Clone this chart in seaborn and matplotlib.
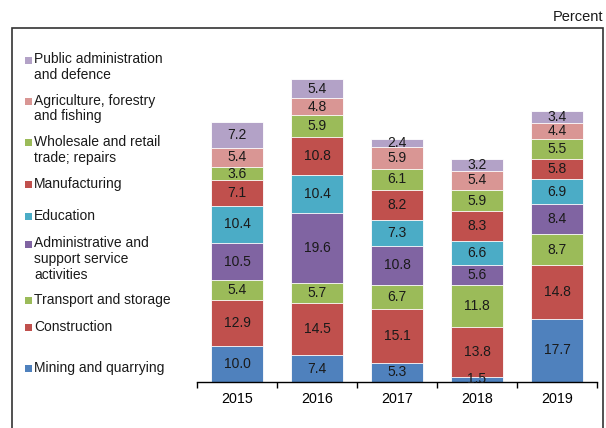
import matplotlib
matplotlib.use("Agg")
import matplotlib.pyplot as plt
from matplotlib.patches import Rectangle
import numpy as np
import pandas as pd
import seaborn as sns

years = ["2015", "2016", "2017", "2018", "2019"]
# bottom to top of the stack
sectors = [
    "Mining and quarrying",
    "Construction",
    "Transport and storage",
    "Administrative and\nsupport service\nactivities",
    "Education",
    "Manufacturing",
    "Wholesale and retail\ntrade; repairs",
    "Agriculture, forestry\nand fishing",
    "Public administration\nand defence",
]
mining = [10.0, 7.4, 5.3, 1.5, 17.7]
construction = [12.9, 14.5, 15.1, 13.8, 14.8]
transport = [5.4, 5.7, 6.7, 11.8, 8.7]
admin_support = [10.5, 19.6, 10.8, 5.6, 8.4]
education = [10.4, 10.4, 7.3, 6.6, 6.9]
manufacturing = [7.1, 10.8, 8.2, 8.3, 5.8]
wholesale = [3.6, 5.9, 6.1, 5.9, 5.5]
agriculture = [5.4, 4.8, 5.9, 5.4, 4.4]
public_admin = [7.2, 5.4, 2.4, 3.2, 3.4]

series = [mining, construction, transport, admin_support, education,
          manufacturing, wholesale, agriculture, public_admin]
colors = ["#4F81BD", "#C0504D", "#9BBB59", "#8064A2", "#4BACC6",
          "#C0504D", "#9BBB59", "#D99694", "#B3A2C7"]

plt.rcParams["font.family"] = ["Liberation Sans", "DejaVu Sans"]

fig = plt.figure(figsize=(6.06, 4.28), dpi=100)
ax = fig.add_axes([197 / 606, 46 / 428, 400 / 606, 339 / 428])

vals = np.array(series)
cum = vals.cumsum(axis=0)

# draw cumulative bars from the top layer down so each lower layer overlays
for i in range(len(series) - 1, -1, -1):
    df = pd.DataFrame({"year": years, "value": cum[i]})
    sns.barplot(data=df, x="year", y="value", color=colors[i], width=0.66,
                saturation=1, edgecolor="white", linewidth=0.6, ax=ax)

for i in range(len(series)):
    for j in range(len(years)):
        mid = cum[i, j] - vals[i, j] / 2
        ax.text(j, mid, f"{vals[i, j]:.1f}", ha="center", va="center",
                fontsize=10, color="#1a1a1a")

ax.set_xlim(-0.5, 4.5)
ax.set_ylim(0, 94.5)
ax.set_xlabel("")
ax.set_ylabel("")
ax.set_yticks([])
for s in ["top", "right", "left"]:
    ax.spines[s].set_visible(False)
ax.spines["bottom"].set_color("black")
ax.spines["bottom"].set_linewidth(1.0)
ax.set_xticks(range(5))
ax.set_xticklabels(years, fontsize=10.3)
ax.tick_params(axis="x", which="major", length=0, pad=7)
ax.set_xticks(np.arange(-0.5, 5, 1), minor=True)
ax.tick_params(axis="x", which="minor", length=4, width=1, color="black")

# manual legend
legend_pos = [368, 327, 300, 259, 216, 184, 150, 108.5, 67]
square_pos = [368, 327, 300, 244, 216, 184, 142, 101, 60]
for i, lab in enumerate(sectors):
    fig.patches.append(Rectangle((25 / 606, 1 - (square_pos[i] + 3.5) / 428),
                                 6.5 / 606, 7 / 428, transform=fig.transFigure,
                                 facecolor=colors[i], edgecolor="none"))
    fig.text(34 / 606, 1 - legend_pos[i] / 428, lab, ha="left", va="center",
             fontsize=10, linespacing=1.17, color="#1a1a1a")

# frame
fig.patches.append(Rectangle((12 / 606, -0.02), 591 / 606, 1.02 - 28 / 428,
                             transform=fig.transFigure, fill=False,
                             edgecolor="#333333", linewidth=1.2))
fig.text(603 / 606, 1 - 17 / 428, "Percent", ha="right", va="center",
         fontsize=10.5, color="#1a1a1a")

fig.savefig("out.png", dpi=100)
